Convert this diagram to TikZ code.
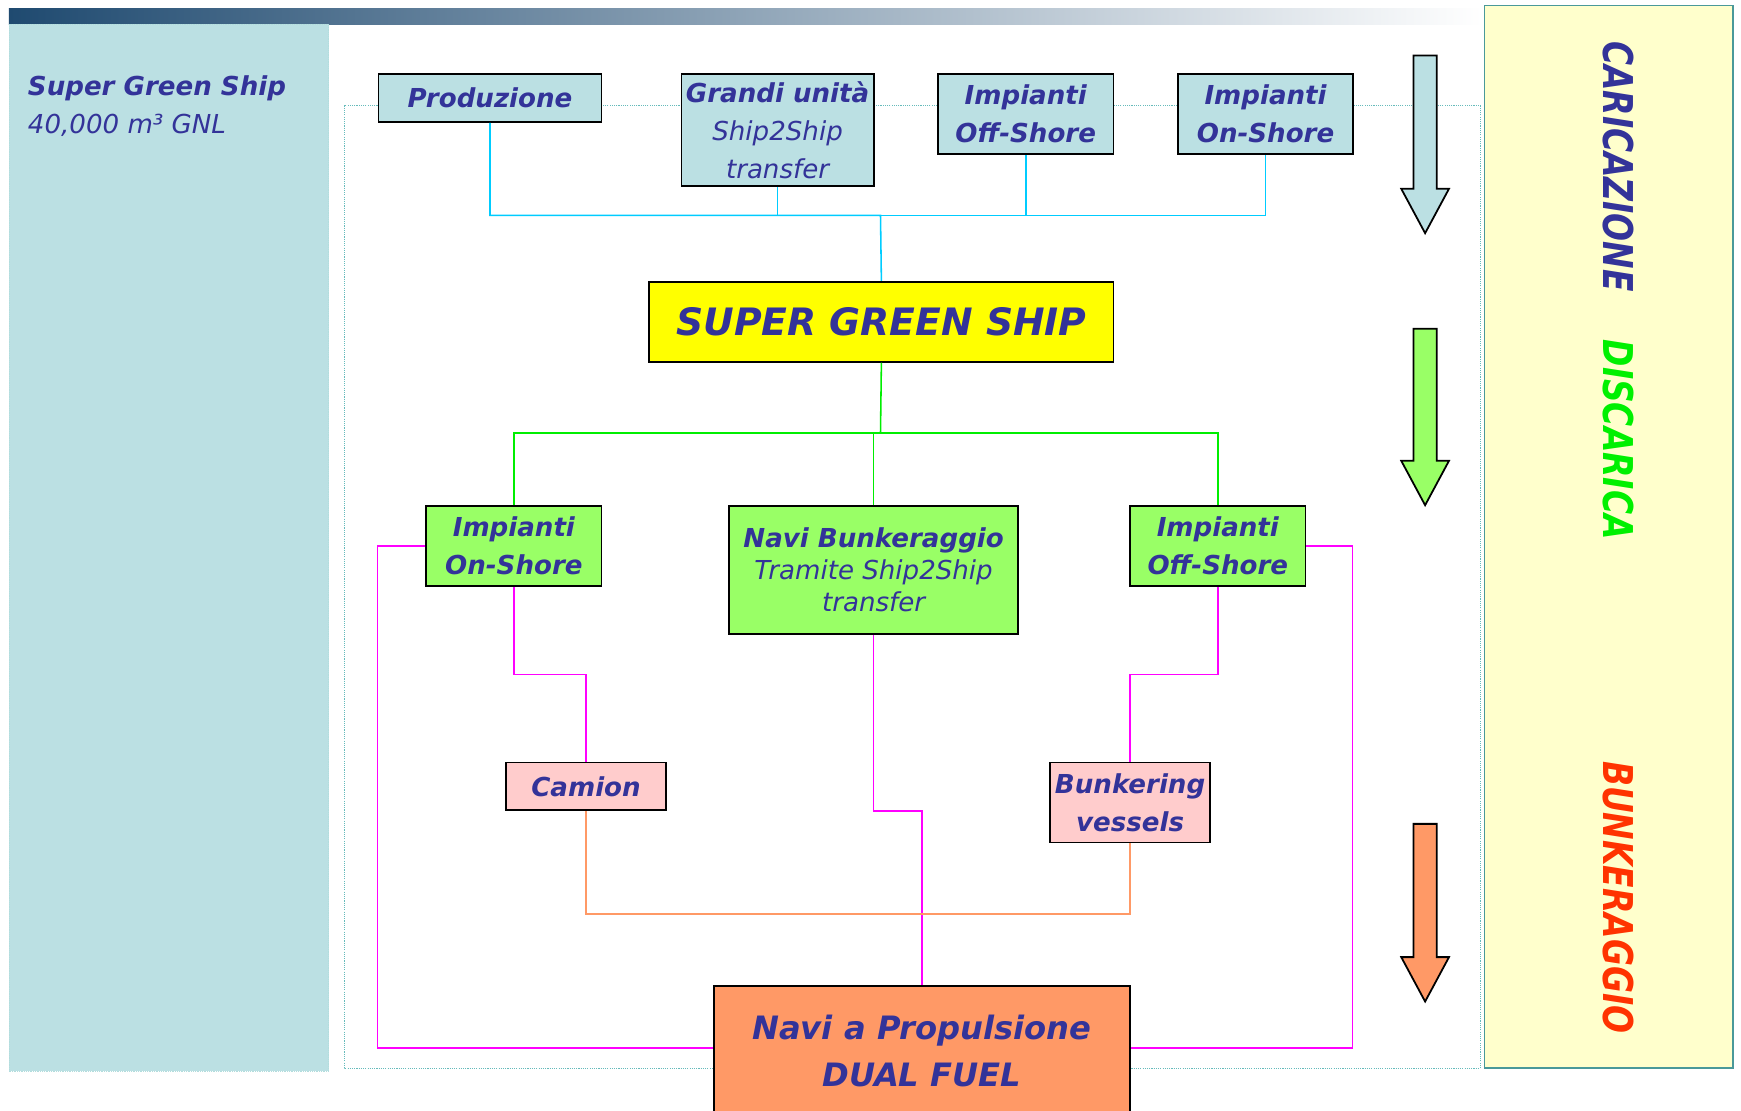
\documentclass[tikz,border=0pt]{standalone}
\usepackage{fontspec}
\usepackage{graphicx}
\setmainfont{DejaVu Sans}
\definecolor{txt}{HTML}{333399}
\definecolor{lblue}{HTML}{BBE0E3}
\definecolor{lgreen}{HTML}{99FF66}
\definecolor{lpink}{HTML}{FFCCCC}
\definecolor{lorange}{HTML}{FF9966}
\definecolor{cyanl}{HTML}{00CCFF}
\definecolor{greenl}{HTML}{00EE00}
\definecolor{magl}{HTML}{FF00FF}
\definecolor{ylw}{HTML}{FFFF00}
\definecolor{pale}{HTML}{FFFFCC}
\definecolor{tealb}{HTML}{4A9999}
\definecolor{dotc}{HTML}{66BBBB}
\definecolor{bardark}{HTML}{1F4A70}
\definecolor{redt}{HTML}{FF3300}
\definecolor{greent}{HTML}{00F000}
\newcommand\bxb{\fontsize{23.5}{34}\selectfont\bfseries\itshape}
\newcommand\bxi{\fontsize{23.5}{34}\selectfont\mdseries\itshape}
\newcommand\bxbig{\fontsize{37}{40}\selectfont\bfseries\itshape}
\tikzset{
  box/.style={draw=black, line width=1.6pt, inner sep=0pt, align=center, text=txt, anchor=north west, font=\bxb},
  cyl/.style={draw=cyanl, line width=1.4pt},
  grl/.style={draw=greenl, line width=1.4pt},
  mgl/.style={draw=magl, line width=1.4pt},
  orl/.style={draw=lorange, line width=1.4pt},
  fat/.style={draw=black, line width=1.6pt, line join=miter}
}
\begin{document}
\begin{tikzpicture}[x=1pt,y=-1pt]
\useasboundingbox (0,0) rectangle (1568,1000);
\fill[white] (0,0) rectangle (1568,1000);
% top gradient bar
\shade[left color=bardark, right color=white] (8,8) rectangle (1335,22);
% left panel
\fill[lblue] (8,22) rectangle (296,965);
\draw[dotc!50, densely dotted, line width=0.6pt] (8,22) rectangle (296,965);
% dotted frame
\draw[dotc, densely dotted, line width=1pt] (310,95) rectangle (1333,962);
% right panel
\draw[fill=pale, draw=tealb, line width=1.5pt] (1337,5) rectangle (1561,962);

% left panel text
\node[anchor=base west, text=txt, font=\bxb, inner sep=0pt] (t1) at (25,86) {Super Green Ship};
\node[anchor=base west, text=txt, font=\bxi, inner sep=0pt] (t2) at (25,120) {40,000 m³ GNL};

% top row
\node[box, fill=lblue, minimum width=201pt, minimum height=43pt] (prod) at (340,66) {Produzione};
\node[box, fill=lblue, minimum width=173pt, minimum height=101pt] (grandi) at (613,66) {Grandi unità\\\mdseries Ship2Ship\\\mdseries transfer};
\node[box, fill=lblue, minimum width=158pt, minimum height=72pt] (off1) at (844,66) {Impianti\\Off-Shore};
\node[box, fill=lblue, minimum width=158pt, minimum height=72pt] (on1) at (1060,66) {Impianti\\On-Shore};

% central
\node[box, fill=ylw, minimum width=418pt, minimum height=72pt, font=\fontsize{34}{40}\selectfont\bfseries\itshape] (sgs) at (584,253) {SUPER GREEN SHIP};

% second row
\node[box, fill=lgreen, minimum width=158pt, minimum height=72pt] (on2) at (383,455) {Impianti\\On-Shore};
\node[box, fill=lgreen, minimum width=260pt, minimum height=115pt, font=\fontsize{23.5}{29}\selectfont\bfseries\itshape] (navi) at (656,455) {Navi Bunkeraggio\\\mdseries Tramite Ship2Ship\\\mdseries transfer};
\node[box, fill=lgreen, minimum width=158pt, minimum height=72pt] (off2) at (1017,455) {Impianti\\Off-Shore};

% third row
\node[box, fill=lpink, minimum width=144pt, minimum height=43pt] (camion) at (455,686) {Camion};
\node[box, fill=lpink, minimum width=144pt, minimum height=72pt] (bunk) at (945,686) {Bunkering\\vessels};

% bottom
\node[box, fill=lorange, minimum width=375pt, minimum height=118pt, font=\fontsize{29}{42}\selectfont\bfseries\itshape] (dual) at (642,887) {Navi a Propulsione\\DUAL FUEL};

% cyan connectors
\coordinate (cb) at (793,194);
\draw[cyl] (prod.south) |- (cb) -- (sgs.north);
\draw[cyl] (grandi.south) |- (cb);
\draw[cyl] (off1.south) |- (cb);
\draw[cyl] (on1.south) |- (cb);

% green connectors
\coordinate (gb) at (793,390);
\draw[grl] (sgs.south) -- (gb);
\draw[grl] (gb) -| (on2.north);
\draw[grl] (gb) -| (navi.north);
\draw[grl] (gb) -| (off2.north);

% magenta connectors
\coordinate (ml) at (340,944);
\coordinate (mr) at (1218,944);
\draw[mgl] (on2.south) -- ++(0,79) -| (camion.north);
\draw[mgl] (off2.south) -- ++(0,79) -| (bunk.north);
\draw[mgl] (navi.south) -- ++(0,159) -| (dual.north);
\draw[mgl] (on2.west) -| (ml) -- (dual.west |- ml);
\draw[mgl] (off2.east) -| (mr) -- (dual.east |- mr);

% orange connectors
\coordinate (ob) at (793,823);
\draw[orl] (camion.south) |- (ob) -| (bunk.south);

% big arrows
\draw[fat, fill=lblue] (1273,50) -- (1294,50) -- (1294,170) -- (1305,170) -- (1283.5,210) -- (1262,170) -- (1273,170) -- cycle;
\draw[fat, fill=lgreen] (1273,296) -- (1294,296) -- (1294,415) -- (1305,415) -- (1283.5,455) -- (1262,415) -- (1273,415) -- cycle;
\draw[fat, fill=lorange] (1273,742) -- (1294,742) -- (1294,862) -- (1305,862) -- (1283.5,902) -- (1262,862) -- (1273,862) -- cycle;

% vertical labels
\node[rotate=-90, text=txt, font=\bxbig, inner sep=0pt] (lab1) at (1458,150) {\scalebox{0.8}[1]{CARICAZIONE}};
\node[rotate=-90, text=greent, font=\bxbig, inner sep=0pt] (lab2) at (1458,396) {\scalebox{0.8}[1]{DISCARICA}};
\node[rotate=-90, text=redt, font=\bxbig, inner sep=0pt] (lab3) at (1458,808) {\scalebox{0.8}[1]{BUNKERAGGIO}};
\end{tikzpicture}
\end{document}
